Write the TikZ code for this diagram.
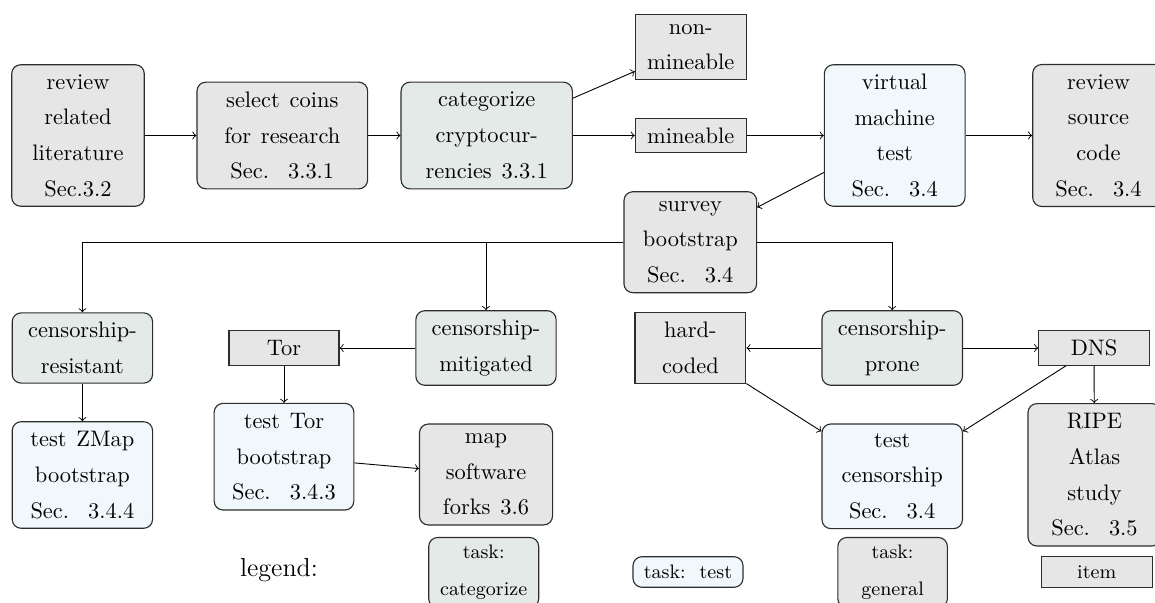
\documentclass[tikz,border=0pt]{standalone}
\definecolor{gfill}{RGB}{230,230,230}
\definecolor{cfill}{RGB}{228,234,232}
\definecolor{tfill}{RGB}{240,248,252}
\definecolor{bord}{RGB}{45,45,45}
\newcommand\myboxfont{\fontsize{10}{15.9}\selectfont\spaceskip=4.4pt\relax\xspaceskip=8.5pt\relax}
\newcommand\mysmallfont{\fontsize{8.7}{16.4}\selectfont\spaceskip=3.8pt\relax\xspaceskip=6.2pt\relax}
\begin{document}
\begin{tikzpicture}[x=0.446pt,y=-0.446pt,
  box/.style={draw=bord, line width=0.5pt, inner sep=0pt, align=center,
    font=\myboxfont},
  task/.style={box, rounded corners=4pt},
  general/.style={task, fill=gfill},
  catg/.style={task, fill=cfill},
  testb/.style={task, fill=tfill},
  itembox/.style={box, fill=gfill},
  small/.style={font=\mysmallfont},
  wh/.style n args={2}{minimum width=#1*0.446pt, minimum height=#2*0.446pt},
  conn/.style={->, line width=0.4pt},
]
\useasboundingbox (0,0) rectangle (1155,603);
% top row
\node[general, wh={132.6}{141.5}] (lit) at (78,135.5) {review\\related\\literature\\Sec.3.2};
\node[general, wh={170.7}{106.7}] (sel) at (282.3,135.5) {select coins\\for research\\Sec. 3.3.1};
\node[catg, wh={171.3}{106.7}] (cat) at (486.7,135.5) {categorize\\cryptocur-\\rencies 3.3.1};
\node[itembox, wh={110.7}{65}] (nonm) at (690.7,47.2) {non-\\mineable};
\node[itembox, wh={110.7}{34.4}] (mine) at (690.7,135.5) {mineable};
\node[testb, wh={140.7}{141.5}] (vm) at (894.7,135.5) {virtual\\machine\\test\\Sec. 3.4};
\node[general, wh={131.6}{142}] (src) at (1098.5,135.5) {review\\source\\code\\Sec. 3.4};
% survey
\node[general, wh={132.7}{101}] (sur) at (690.3,242.2) {survey\\bootstrap\\Sec. 3.4};
% third row
\node[catg, wh={140.4}{70.3}] (res) at (82.4,348) {censorship-\\resistant};
\node[itembox, wh={110}{34.3}] (tor) at (284,348) {Tor};
\node[catg, wh={140.3}{74.6}] (mit) at (486,348) {censorship-\\mitigated};
\node[itembox, wh={110.8}{70.3}] (hc) at (690.4,348) {hard-\\coded};
\node[catg, wh={140.5}{74.6}] (pro) at (892.2,348) {censorship-\\prone};
\node[itembox, wh={110.5}{34.3}] (dns) at (1094,348) {DNS};
% fourth row
\node[testb, wh={140.4}{106.6}] (zmap) at (82.4,475) {test ZMap\\bootstrap\\Sec. 3.4.4};
\node[testb, wh={139.7}{106.7}] (ttor) at (284,456.7) {test Tor\\bootstrap\\Sec. 3.4.3};
\node[general, wh={133.1}{101}] (map) at (486,474.5) {map\\software\\forks 3.6};
\node[testb, wh={140.5}{104.7}] (tcen) at (892.2,476.3) {test\\censorship\\Sec. 3.4};
\node[general, wh={133}{142.4}] (ripe) at (1094.5,474.8) {RIPE\\Atlas\\study\\Sec. 3.5};
% legend
\node[font=\fontsize{11.6}{14}\selectfont] (leg) at (279,570) {legend:};
\node[catg, small, wh={110}{70}] (lcat) at (483.7,572.5) {task:\\categorize};
\node[testb, small, wh={110}{30.6}] (ltest) at (688,572) {task: test};
\node[general, small, wh={109.6}{70}] (lgen) at (892.6,572.5) {task:\\general};
\node[itembox, small, wh={110.7}{30.6}] (litem) at (1096.7,572) {item};
% connectors
\draw[conn] (lit) -- (sel);
\draw[conn] (sel) -- (cat);
\draw[conn] (cat) -- (nonm);
\draw[conn] (cat) -- (mine);
\draw[conn] (mine) -- (vm);
\draw[conn] (vm) -- (src);
\draw[conn] (vm) -- (sur);
\draw[conn] (sur.west) -| (res.north);
\draw[conn] (sur.west) -| (mit.north);
\draw[conn] (sur.east) -| (pro.north);
\draw[conn] (mit) -- (tor);
\draw[conn] (tor) -- (ttor);
\draw[conn] (res) -- (zmap);
\draw[conn] (ttor) -- (map);
\draw[conn] (pro) -- (hc);
\draw[conn] (pro) -- (dns);
\draw[conn] (hc) -- (tcen);
\draw[conn] (dns) -- (tcen);
\draw[conn] (dns) -- (ripe);
\end{tikzpicture}
\end{document}
